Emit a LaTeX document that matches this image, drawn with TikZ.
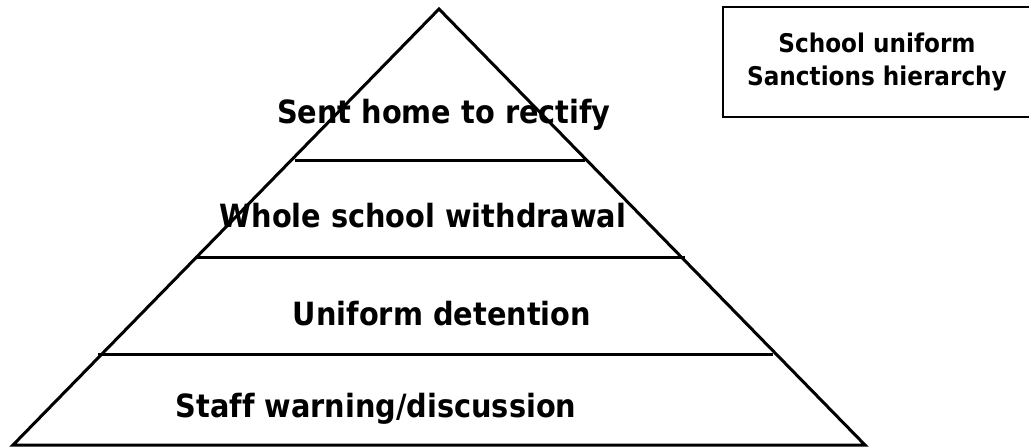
\documentclass[tikz,border=0pt]{standalone}
\usepackage{fontspec}
\newfontfamily\signfont[Ligatures=NoCommon]{DejaVu Sans Condensed}
\usepackage{tikz}

\begin{document}
\begin{tikzpicture}[
    x=0.75pt, y=-0.75pt,
    every node/.style={inner sep=0pt},
    level/.style={anchor=base, font=\signfont\bfseries\fontsize{24}{28}\selectfont},
    heading/.style={minimum width=231pt, minimum height=82.5pt, align=center, font=\signfont\bfseries\fontsize{19.3}{24.75}\selectfont},
    edge/.style={line width=2.25pt}
]
\useasboundingbox (0,0) rectangle (1029,447);
\clip (0,0) rectangle (1029,447);

% Pyramid outline
\coordinate (apex) at (439,9);
\coordinate (left) at (13,445);
\coordinate (right) at (865,445);
\draw[edge, line join=miter] (apex) -- (left) -- (right) -- cycle;

% Layer lines
\draw[edge] (295,160) -- (585,160);
\draw[edge] (195,257) -- (685,257);
\draw[edge] (98,354) -- (773,354);

% Levels
\node[level] (home) at (444,123) {Sent home to rectify};
\node[level] (withdrawal) at (423,227) {Whole school withdrawal};
\node[level] (detention) at (442,325) {Uniform detention};
\node[level] (warning) at (376,417) {Staff warning/discussion};

% Title box (open on the right, runs off the page)
\node[heading] (title) at (877,62) {School uniform\\Sanctions hierarchy};
\draw[line width=1.5pt] (title.north east) -- (title.north west) -- (title.south west) -- (title.south east);

\end{tikzpicture}
\end{document}
